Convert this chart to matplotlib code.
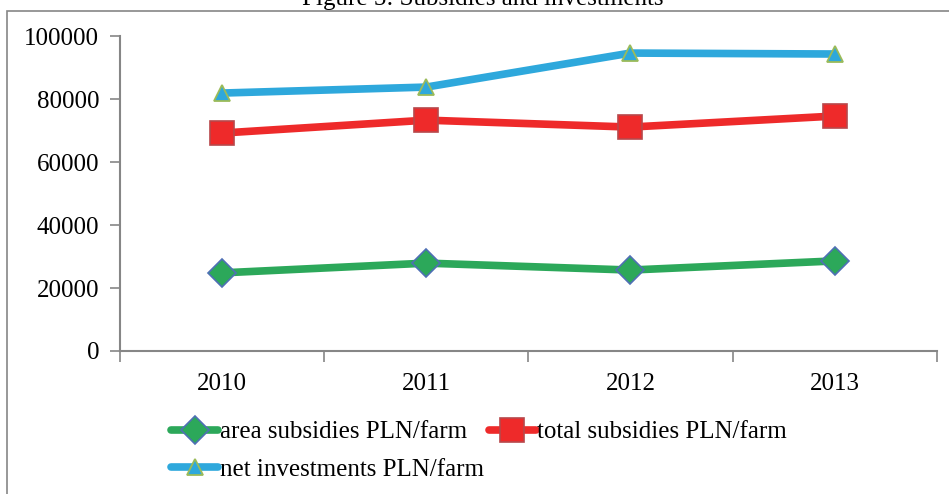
import matplotlib.pyplot as plt
from matplotlib.patches import Rectangle

plt.rcParams['font.family'] = ['Liberation Serif', 'DejaVu Serif']

years = ['2010', '2011', '2012', '2013']
area_subsidies = [24800, 27900, 25700, 28600]
total_subsidies = [69200, 73300, 71100, 74600]
net_investments = [81900, 83800, 94600, 94300]

axis_grey = '#868686'

fig = plt.figure(figsize=(9.49, 4.94), dpi=100)
ax = fig.add_axes([0.1265, 0.2895, 0.8605, 0.6375])

x = list(range(len(years)))
l1, = ax.plot(x, area_subsidies, color='#2ca85a', lw=5.5, marker='D', markersize=14,
              markerfacecolor='#2ca85a', markeredgecolor='#4f6fb5', markeredgewidth=1.2,
              label='area subsidies PLN/farm', solid_capstyle='round')
l2, = ax.plot(x, total_subsidies, color='#ee2a2a', lw=5.5, marker='s', markersize=17,
              markerfacecolor='#ee2a2a', markeredgecolor='#b8474a', markeredgewidth=1.2,
              label='total subsidies PLN/farm', solid_capstyle='round')
l3, = ax.plot(x, net_investments, color='#2ea8dc', lw=5.5, marker='^', markersize=12,
              markerfacecolor='#2ea8dc', markeredgecolor='#9bbb59', markeredgewidth=1.3,
              label='net investments PLN/farm', solid_capstyle='round')

ax.set_xlim(-0.5, 3.5)
ax.set_ylim(0, 100000)
ax.set_yticks([0, 20000, 40000, 60000, 80000, 100000])
ax.set_xticks(x)
ax.set_xticklabels(years)
ax.set_xticks([-0.5, 0.5, 1.5, 2.5, 3.5], minor=True)
ax.tick_params(axis='x', which='major', length=0, pad=16, labelsize=18)
ax.tick_params(axis='x', which='minor', length=8, width=1.2, color=axis_grey)
ax.tick_params(axis='y', length=7, width=1.2, color=axis_grey, pad=8, labelsize=18)

for side in ['top', 'right']:
    ax.spines[side].set_visible(False)
for side in ['left', 'bottom']:
    ax.spines[side].set_color(axis_grey)
    ax.spines[side].set_linewidth(1.5)

# row order: area, total / net
ax.legend([l1, l3, l2], [l1.get_label(), l3.get_label(), l2.get_label()],
          loc='upper left', bbox_to_anchor=(0.05, -0.19), ncol=2, frameon=False,
          fontsize=18, handlelength=1.9, handletextpad=0.05, columnspacing=0.2,
          labelspacing=0.6, borderaxespad=0)

# outer chart frame, partly cut off by the image edge
fig.patches.append(Rectangle((7 / 949, -0.1), 1.2, 1 - 11 / 494 + 0.1,
                             transform=fig.transFigure, fill=False,
                             edgecolor=axis_grey, lw=1.2))

fig.text(0.509, 1.002, 'Figure 5: Subsidies and investments', ha='center', va='center',
         fontsize=18)

plt.savefig('out.png', dpi=100)
